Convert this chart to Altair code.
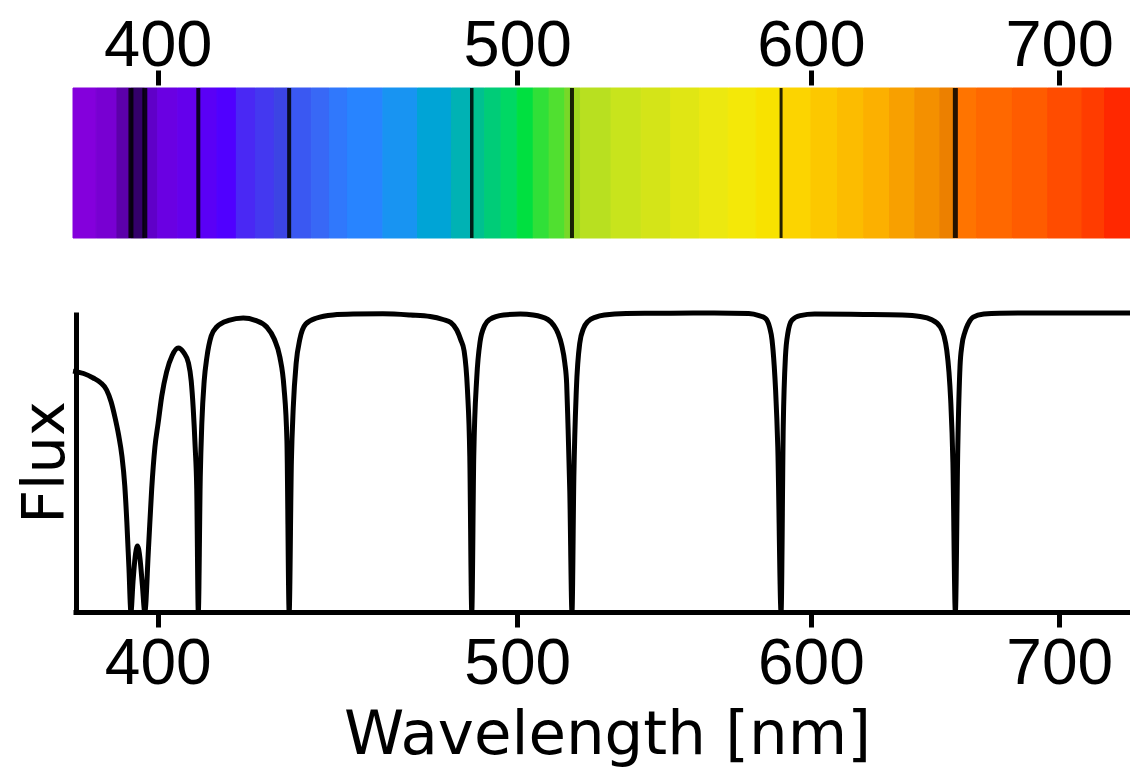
import altair as alt
import pandas as pd

# ---------------- data ----------------
# colour bands of the spectrum strip (edges in nm, one colour per band)
band_edges = [379.5, 385, 390, 393.4, 396.8, 400, 405, 410, 415, 420, 425, 430, 434,
              440, 445, 450, 460, 470, 480, 486.1, 490, 495, 500, 505, 510, 515, 517.3,
              520, 530, 540, 550, 560, 570, 580, 589, 600, 610, 620, 630, 640, 650,
              656.3, 665, 680, 695, 710, 720, 735.1]
band_colors = ["#8400dc", "#7800d2", "#5c00aa", "#34006a", "#6000c8", "#6a00e2", "#6400ec",
               "#5a00f6", "#5000ff", "#4a28f4", "#4438f0", "#3c44e4", "#3a58f2", "#3868f6",
               "#3078fc", "#2884ff", "#1894f2", "#00a4d6", "#00b2b4", "#00c090", "#00cc78",
               "#00d864", "#00e040", "#30e038", "#50e030", "#78d828", "#a0d820", "#b8e020",
               "#c8e41c", "#d4e418", "#e0e614", "#ece810", "#f4e808", "#f8e200", "#fcd400",
               "#fcc800", "#fcbc00", "#fcb000", "#f8a000", "#f49000", "#ec8000", "#ff7400",
               "#ff6800", "#ff5c00", "#ff4c00", "#ff3c00", "#ff2800"]

# absorption lines (nm) and their drawn widths
line_wl = [393.4, 396.8, 410.2, 434.0, 486.1, 517.3, 589.0, 656.3]
line_w = [5, 5, 4, 4, 3.5, 4, 3, 5]

# flux curve
flux_wl = [379.5, 382.0, 384.3, 386.0, 387.5, 388.6, 389.5, 390.4, 391.2, 391.9, 392.4, 392.9,
           393.4, 393.9, 394.4, 395.0, 395.6, 396.2, 396.8, 397.7, 398.5, 399.3, 400.1, 401.0,
           402.2, 403.6, 405.1, 406.5, 407.7, 408.4, 408.9, 409.4, 409.8, 410.2, 410.7, 411.1,
           411.7, 412.4, 413.5, 414.9, 418.0, 421.8, 425.0, 428.0, 430.0, 431.5, 432.6, 433.4,
           434.0, 434.6, 435.1, 435.9, 436.9, 438.5, 441.5, 446.0, 451.6, 460.0, 468.0, 473.7,
           477.5, 479.8, 481.6, 482.8, 483.8, 484.8, 485.5, 486.1, 486.7, 487.6, 488.6, 490.0,
           491.5, 495.8, 501.0, 505.0, 509.6, 511.5, 512.8, 514.0, 515.0, 515.6, 516.0, 516.6,
           517.3, 517.9, 518.7, 519.8, 521.0, 522.4, 525.0, 527.8, 535.0, 550.0, 565.0, 577.3,
           581.0, 583.3, 584.8, 585.7, 586.5, 587.0, 587.8, 589.0, 589.8, 590.6, 591.5, 593.0,
           596.0, 601.4, 620.0, 635.0, 642.1, 646.5, 650.2, 651.7, 652.8, 653.7, 654.4, 655.3,
           656.3, 657.3, 658.2, 659.0, 660.2, 661.5, 663.6, 668.0, 674.6, 700.0, 735.1]
flux_val = [0.803, 0.795, 0.78, 0.765, 0.74, 0.70, 0.65, 0.59, 0.52, 0.42, 0.30, 0.15,
            0.0, 0.10, 0.18, 0.22, 0.18, 0.09, 0.0, 0.21, 0.41, 0.55, 0.63, 0.72,
            0.80, 0.855, 0.88, 0.865, 0.83, 0.77, 0.68, 0.55, 0.41, 0.0, 0.45, 0.63,
            0.77, 0.85, 0.92, 0.95, 0.972, 0.98, 0.972, 0.95, 0.91, 0.85, 0.75, 0.57,
            0.0, 0.50, 0.68, 0.83, 0.91, 0.96, 0.98, 0.99, 0.993, 0.994, 0.99, 0.985,
            0.975, 0.965, 0.94, 0.907, 0.87, 0.74, 0.52, 0.0, 0.52, 0.78, 0.90, 0.955,
            0.975, 0.99, 0.993, 0.99, 0.975, 0.955, 0.93, 0.89, 0.83, 0.76, 0.63, 0.40,
            0.0, 0.45, 0.74, 0.896, 0.945, 0.968, 0.983, 0.99, 0.995, 0.996, 0.997, 0.995,
            0.988, 0.979, 0.95, 0.907, 0.82, 0.74, 0.55, 0.0, 0.62, 0.851, 0.93, 0.973,
            0.988, 0.993, 0.992, 0.99, 0.985, 0.975, 0.95, 0.92, 0.873, 0.80, 0.707, 0.5,
            0.0, 0.55, 0.818, 0.89, 0.933, 0.96, 0.983, 0.993, 0.996, 0.997, 0.997]

tick_values = [400, 500, 600, 700]
x_domain = [379.5, 735.1]

# ---------------- chart ----------------
FONT = "Liberation Sans"
TITLE_FONT = "DejaVu Sans"
W, H = 1065, 300          # lower plot area
STRIP_TOP, STRIP_BOTTOM = -224, -74   # strip placed above the lower plot area (pixels)

bands = pd.DataFrame({"start": band_edges[:-1], "end": band_edges[1:], "color": band_colors})
lines = pd.DataFrame({"wl": line_wl, "w": line_w})
flux = pd.DataFrame({"wl": flux_wl, "flux": flux_val})

xscale = alt.Scale(type="log", domain=x_domain, nice=False, zero=False)

top_axis = alt.Axis(orient="top", values=tick_values, format="d", domain=False, grid=False,
                    tickSize=15, tickWidth=5, tickColor="black", offset=227,
                    labelFont=FONT, labelFontSize=65, labelColor="black",
                    labelBaseline="alphabetic", labelPadding=5, labelFlush=False, title=None)

bottom_axis = alt.Axis(orient="bottom", values=tick_values, format="d", grid=False,
                       domainWidth=5, domainColor="black",
                       tickSize=15, tickWidth=5, tickColor="black",
                       labelFont=FONT, labelFontSize=64, labelColor="black",
                       labelBaseline="alphabetic", labelPadding=56, labelFlush=False,
                       title="Wavelength [nm]", titleFont=TITLE_FONT, titleFontSize=61,
                       titleFontWeight="normal", titleColor="black",
                       titleBaseline="alphabetic", titleAlign="center",
                       titleX=534, titleY=141.4)

strip = alt.Chart(bands).mark_rect(strokeWidth=1).encode(
    x=alt.X("start:Q", scale=xscale, axis=top_axis),
    x2="end:Q",
    y=alt.value(STRIP_TOP),
    y2=alt.value(STRIP_BOTTOM),
    color=alt.Color("color:N", scale=None),
    stroke=alt.Stroke("color:N", scale=None),
)

rules = alt.Chart(lines).mark_rule(color="black", opacity=0.85).encode(
    x=alt.X("wl:Q", scale=xscale, axis=None),
    y=alt.value(STRIP_TOP),
    y2=alt.value(STRIP_BOTTOM),
    strokeWidth=alt.StrokeWidth("w:Q", scale=None),
)

curve = alt.Chart(flux).mark_line(color="black", strokeWidth=5, interpolate="monotone").encode(
    x=alt.X("wl:Q", scale=xscale, axis=bottom_axis),
    y=alt.Y("flux:Q", scale=alt.Scale(domain=[0, 1], nice=False, zero=True),
            axis=alt.Axis(title="Flux", labels=False, ticks=False, grid=False,
                          domainWidth=5, domainColor="black", offset=-3,
                          titleFont=TITLE_FONT, titleFontSize=59, titleFontWeight="normal",
                          titleColor="black", titleAngle=270, titleBaseline="alphabetic",
                          titleAlign="center", titleX=-12.5, titleY=150)),
)

chart = alt.layer(strip, rules, curve).resolve_axis(x="independent").properties(
    width=W,
    height=H,
    autosize=alt.AutoSizeParams(type="none"),
    padding={"left": 65, "top": 304, "right": -8, "bottom": 156},
    background="white",
).configure_view(stroke=None)

chart.save("out.html", embed_options={"renderer": "svg", "actions": False})
